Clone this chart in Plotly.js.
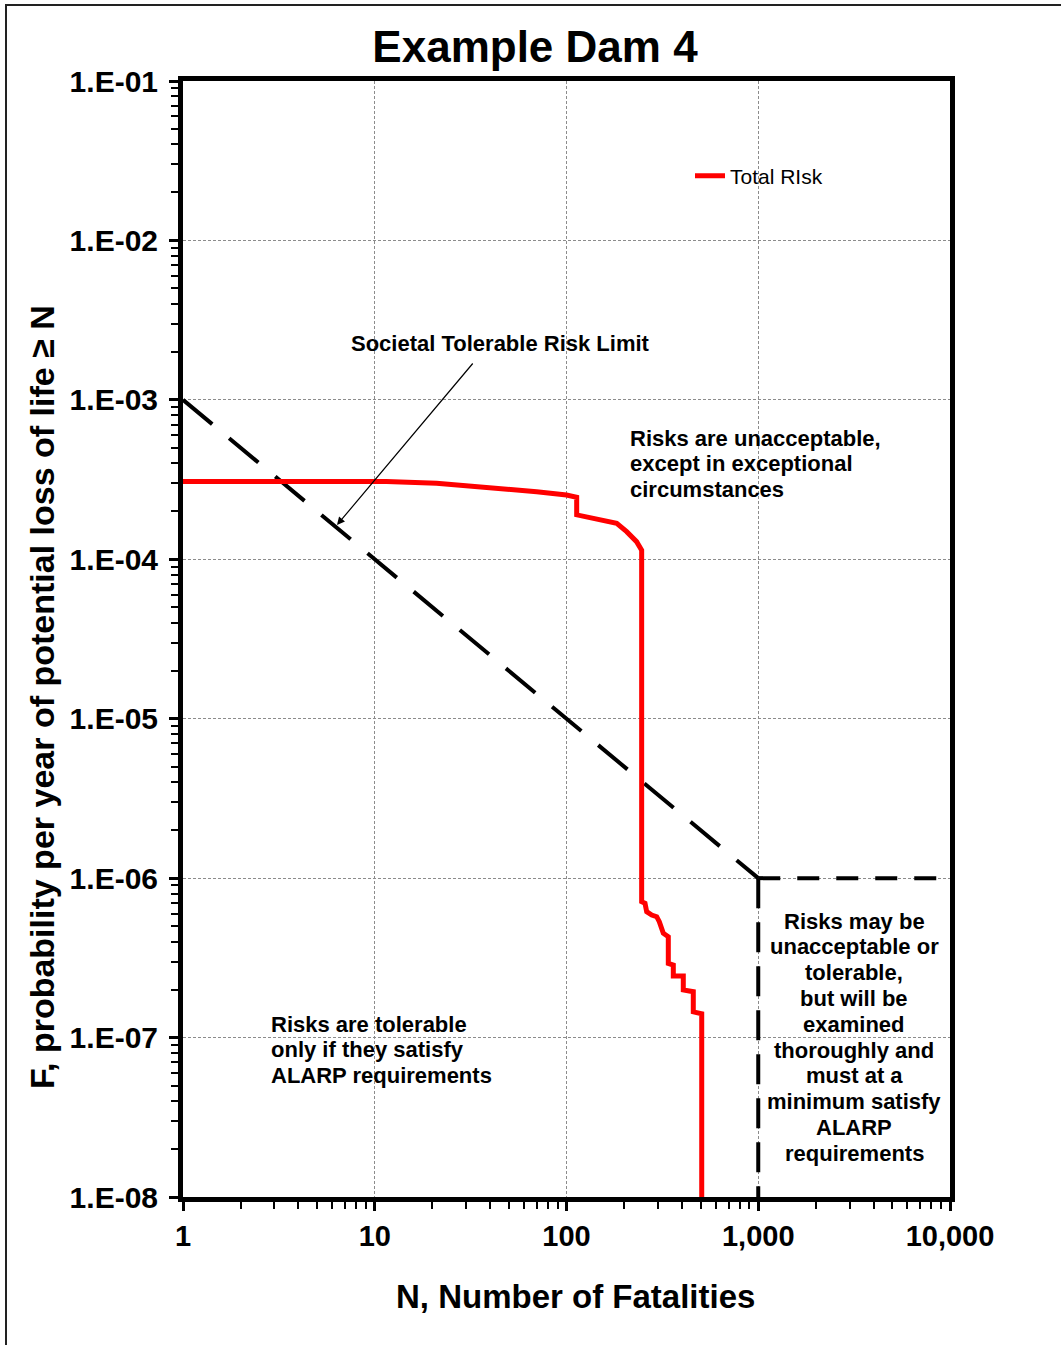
<!DOCTYPE html>
<html>
<head>
<meta charset="utf-8">
<script src="https://cdn.plot.ly/plotly-3.0.1.min.js"></script>
<style>
  html, body { margin: 0; padding: 0; background: #fff; }
  #wrap { position: relative; width: 1061px; height: 1345px; overflow: hidden; }
  #chart { width: 1061px; height: 1345px; }
  #frame { position: absolute; left: 5px; top: 4px; width: 1100px; height: 1400px;
           border-left: 2px solid #222; border-top: 2px solid #222; pointer-events: none; }
</style>
</head>
<body>
<div id="wrap">
  <div id="chart"></div>
  <div id="frame"></div>
</div>
<script>
// ---- Data ----
const totalRiskN = [1, 11.5, 21, 31.4, 46.8, 69.9, 100, 113, 113, 155.6, 182.8, 206, 232, 246.6,
  246.6, 256.7, 261.9, 278.2, 295.4, 304.8, 311, 319.8, 339.6,
  339.6, 360.6, 360.6, 406.5, 406.5, 458.4, 458.4, 507.2, 507.2];
const totalRiskF = [3.07e-4, 3.07e-4, 3.0e-4, 2.88e-4, 2.79e-4, 2.65e-4, 2.53e-4, 2.45e-4, 1.90e-4, 1.76e-4, 1.68e-4, 1.49e-4, 1.29e-4, 1.14e-4,
  7.11e-7, 6.95e-7, 6.16e-7, 5.87e-7, 5.73e-7, 5.33e-7, 4.85e-7, 4.51e-7, 4.29e-7,
  2.92e-7, 2.85e-7, 2.43e-7, 2.43e-7, 1.99e-7, 1.94e-7, 1.45e-7, 1.41e-7, 1e-8];

const limitSlopeN = [1, 1000];
const limitSlopeF = [1e-3, 1e-6];
const limitFlatN = [1000, 10000];
const limitFlatF = [1e-6, 1e-6];
const limitVertN = [1000, 1000];
const limitVertF = [1e-6, 1e-8];

const xTickVals = [1, 10, 100, 1000, 10000];
const xTickText = ['1', '10', '100', '1,000', '10,000'];
const yTickVals = [1e-8, 1e-7, 1e-6, 1e-5, 1e-4, 1e-3, 1e-2, 1e-1];
const yTickText = ['1.E-08', '1.E-07', '1.E-06', '1.E-05', '1.E-04', '1.E-03', '1.E-02', '1.E-01'];

const limitLabel = 'Societal Tolerable Risk Limit';
const unacceptableLines = ['Risks are unacceptable,', 'except in exceptional', 'circumstances'];
const tolerableLines = ['Risks are tolerable', 'only if they satisfy', 'ALARP requirements'];
const examinedLines = ['Risks may be', 'unacceptable or', 'tolerable,', 'but will be', 'examined',
  'thoroughly and', 'must at a', 'minimum satisfy', 'ALARP', 'requirements'];

// minor tick positions (2..9 within each decade)
function minorVals(lo, hi) {
  const v = [];
  for (let e = lo; e < hi; e++) for (let d = 2; d <= 9; d++) v.push(d * Math.pow(10, e));
  return v;
}

const FONT = 'Liberation Sans, Arial, sans-serif';

const traces = [
  { x: limitSlopeN, y: limitSlopeF, mode: 'lines', showlegend: false, hoverinfo: 'skip',
    line: { color: '#000', width: 4, dash: '38px,22px' } },
  { x: limitFlatN, y: limitFlatF, mode: 'lines', showlegend: false, hoverinfo: 'skip',
    line: { color: '#000', width: 4, dash: '22px,17px' } },
  { x: limitVertN, y: limitVertF, mode: 'lines', showlegend: false, hoverinfo: 'skip',
    line: { color: '#000', width: 4, dash: '30px,14px' } },
  { x: totalRiskN, y: totalRiskF, mode: 'lines', name: 'Total RIsk', cliponaxis: false,
    line: { color: '#ff0000', width: 5 } }
];

const px = x => (x - 183) / 767;
const py = y => (1197 - y) / 1116;
const annFont = { family: FONT, size: 22, color: '#000', weight: 'bold' };
const LINE = 25.8;

function block(lines, xPix, yFirst, anchor) {
  return lines.map((t, i) => ({
    xref: 'paper', yref: 'paper', x: px(xPix), y: py(yFirst + i * LINE),
    xanchor: anchor, yanchor: 'middle', text: t, showarrow: false, font: annFont
  }));
}

const annotations = [
  { xref: 'paper', yref: 'paper', x: px(500), y: py(343), xanchor: 'center', yanchor: 'middle',
    text: limitLabel, showarrow: false, font: annFont },
  { xref: 'paper', yref: 'paper', x: px(337), y: py(525), text: '', showarrow: true,
    ax: 137, ay: -163, arrowhead: 2, arrowsize: 1.3, arrowwidth: 1.2, arrowcolor: '#000', standoff: 0 },
  // axis titles
  { xref: 'paper', yref: 'paper', x: px(42), y: py(697), xanchor: 'center', yanchor: 'middle', textangle: -90,
    text: '<b>F, probability per year of potential loss of life ≥ N</b>', showarrow: false,
    font: { family: FONT, size: 34, color: '#000' } },
  { xref: 'paper', yref: 'paper', x: px(575), y: py(1296), xanchor: 'center', yanchor: 'middle',
    text: '<b>N, Number of Fatalities</b>', showarrow: false,
    font: { family: FONT, size: 33, color: '#000' } }
].concat(block(unacceptableLines, 628, 438, 'left'))
 .concat(block(tolerableLines, 269, 1024, 'left'))
 .concat(block(examinedLines, 854, 921, 'center'));

const layout = {
  width: 1061, height: 1345,
  margin: { l: 183, r: 111, t: 81, b: 148 },
  paper_bgcolor: 'rgba(0,0,0,0)', plot_bgcolor: '#fff',
  title: { text: '<b>Example Dam 4</b>', x: 535/1061, xanchor: 'center', y: 1 - 47/1345, yanchor: 'middle',
           font: { family: FONT, size: 44, color: '#000' } },
  xaxis: {
    type: 'log', range: [0, 4],
    tickmode: 'array', tickvals: xTickVals, ticktext: xTickText,
    ticks: 'outside', ticklen: 9, tickwidth: 3, tickcolor: '#000',
    tickfont: { family: FONT, size: 29, color: '#000', weight: 'bold' },
    showline: true, linecolor: '#000', linewidth: 5, mirror: true,
    showgrid: true, gridcolor: '#8c8c8c', gridwidth: 1, griddash: '3px,2px',
    minor: { tickmode: 'array', tickvals: minorVals(0, 4), ticks: 'outside', ticklen: 7, tickwidth: 2, tickcolor: '#000', showgrid: false },
    zeroline: false
  },
  yaxis: {
    type: 'log', range: [-8, -1],
    tickmode: 'array', tickvals: yTickVals, ticktext: yTickText,
    ticks: 'outside', ticklen: 9, tickwidth: 3, tickcolor: '#000', ticklabelstandoff: 5,
    tickfont: { family: FONT, size: 30, color: '#000', weight: 'bold' },
    showline: true, linecolor: '#000', linewidth: 5, mirror: true,
    showgrid: true, gridcolor: '#8c8c8c', gridwidth: 1, griddash: '3px,2px',
    minor: { tickmode: 'array', tickvals: minorVals(-8, -1), ticks: 'outside', ticklen: 7, tickwidth: 2, tickcolor: '#000', showgrid: false },
    zeroline: false
  },
  showlegend: true,
  legend: { x: px(690), xanchor: 'left', y: py(176), yanchor: 'middle', bgcolor: 'rgba(0,0,0,0)',
            font: { family: FONT, size: 21, color: '#000' }, itemwidth: 30 },
  shapes: [
    { type: 'rect', xref: 'paper', yref: 'paper', x0: px(680), x1: px(850), y0: py(236), y1: py(100),
      fillcolor: '#fff', line: { width: 0 }, layer: 'between' }
  ],
  annotations: annotations
};

Plotly.newPlot('chart', traces, layout, { displayModeBar: false, staticPlot: true });
</script>
</body>
</html>
